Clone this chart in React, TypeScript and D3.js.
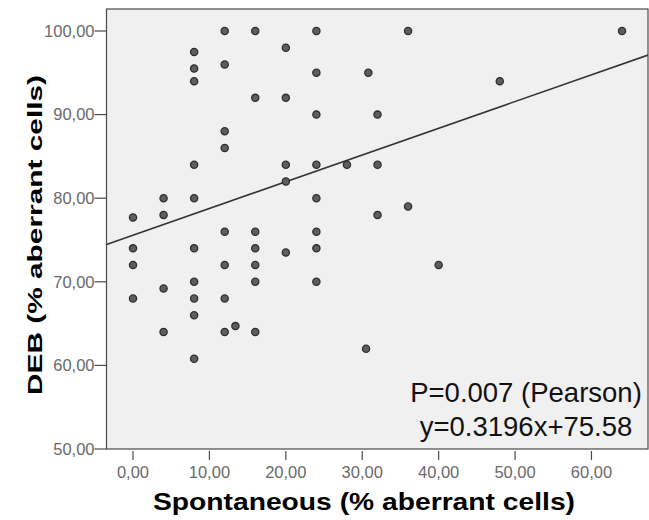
import React from "react";
import * as d3 from "d3";

const xs: number[] = [
  0, 0, 0, 0,
  4, 4, 4, 4,
  8, 8, 8, 8, 8, 8, 8, 8, 8, 8,
  12, 12, 12, 12, 12, 12, 12, 12,
  13.4,
  16, 16, 16, 16, 16, 16, 16,
  20, 20, 20, 20, 20,
  24, 24, 24, 24, 24, 24, 24, 24,
  28, 30.8, 30.5,
  32, 32, 32,
  36, 36, 40, 48, 64,
];
const ys: number[] = [
  77.7, 74, 72, 68,
  80, 78, 69.2, 64,
  97.5, 95.5, 94, 84, 80, 74, 70, 68, 66, 60.8,
  100, 96, 88, 86, 76, 72, 68, 64,
  64.7,
  100, 92, 76, 74, 72, 70, 64,
  98, 92, 84, 82, 73.5,
  100, 95, 90, 84, 80, 76, 74, 70,
  84, 95, 62,
  90, 84, 78,
  100, 79, 72, 94, 100,
];

const xTicks: number[] = [0, 10, 20, 30, 40, 50, 60];
const yTicks: number[] = [50, 60, 70, 80, 90, 100];
const slope = 0.3196;
const intercept = 75.58;

const xTitle = "Spontaneous (% aberrant cells)";
const yTitle = "DEB (% aberrant cells)";
const noteP = "P=0.007 (Pearson)";
const noteEq = "y=0.3196x+75.58";

const fmt = (v: number) => v.toFixed(2).replace(".", ",");

export default function App() {
  const W = 649, H = 520;
  const L = 106.5, R = 648, T = 9, B = 449;
  const x = d3.scaleLinear().domain([-3.47, 67.4]).range([L, R]);
  const y = d3.scaleLinear().domain([50, 102.63]).range([B, T]);
  const pts = xs.map((v, i) => [v, ys[i]] as [number, number]);
  const [x0, x1] = x.domain();
  const line = d3.line<number>().x((v) => x(v)).y((v) => y(slope * v + intercept));
  const font = "Arial, 'Liberation Sans', sans-serif";
  return (
    <svg width={W} height={H} style={{ position: "absolute", left: 0, top: 0, background: "#fff" }}>
      <rect x={L} y={T} width={R - L} height={B - T} fill="#f0f0f0" stroke="#4a4a4a" strokeWidth={1.2} />
      {yTicks.map((t) => (
        <g key={"y" + t}>
          <line x1={L - 12} x2={L} y1={y(t)} y2={y(t)} stroke="#4a4a4a" strokeWidth={1.2} />
          <text x={L - 12} y={y(t)} dy="0.35em" textAnchor="end" fontFamily={font} fontSize={16.5} fill="#6a6a6a">
            {fmt(t)}
          </text>
        </g>
      ))}
      {xTicks.map((t) => (
        <g key={"x" + t}>
          <line x1={x(t)} x2={x(t)} y1={B + 2} y2={B + 11} stroke="#4a4a4a" strokeWidth={1.2} />
          <text x={x(t)} y={478} textAnchor="middle" fontFamily={font} fontSize={16.5} fill="#6a6a6a">
            {fmt(t)}
          </text>
        </g>
      ))}
      <defs>
        <clipPath id="plotclip">
          <rect x={L} y={T} width={R - L} height={B - T} />
        </clipPath>
      </defs>
      <path d={line([x0, x1]) || ""} stroke="#333" strokeWidth={1.6} fill="none" clipPath="url(#plotclip)" />
      {pts.map(([a, b], i) => (
        <circle key={i} cx={x(a)} cy={y(b)} r={3.6} fill="#5e5e5e" stroke="#2e2e2e" strokeWidth={1.3} />
      ))}
      <text x={526} y={402} textAnchor="middle" fontFamily={font} fontSize={27.5} fill="#111">
        {noteP}
      </text>
      <text x={526} y={436} textAnchor="middle" fontFamily={font} fontSize={27.5} fill="#111">
        {noteEq}
      </text>
      <text x={364} y={510} textAnchor="middle" fontFamily={font} fontSize={24} fontWeight="bold" fill="#000"
        textLength={422} lengthAdjust="spacingAndGlyphs">
        {xTitle}
      </text>
      <text transform="translate(42,235) rotate(-90)" textAnchor="middle" fontFamily={font} fontSize={21}
        fontWeight="bold" fill="#000" textLength={320} lengthAdjust="spacingAndGlyphs">
        {yTitle}
      </text>
    </svg>
  );
}
